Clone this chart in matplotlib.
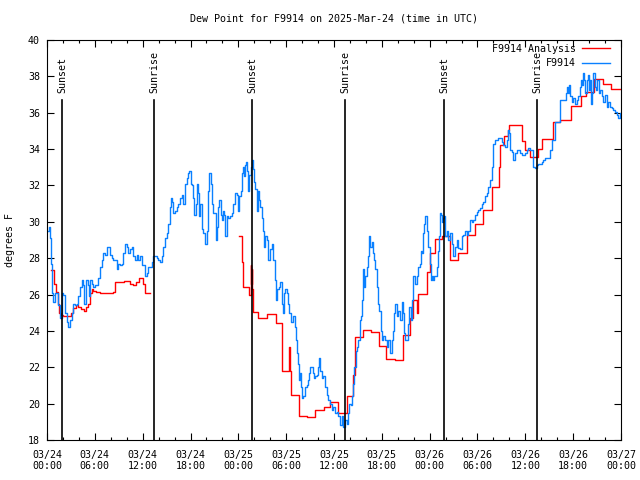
import matplotlib
matplotlib.use('Agg')
import matplotlib.pyplot as plt
import matplotlib.transforms as mtransforms
import numpy as np

# hours since 2025-03-24 00:00 UTC
obs_hours = [0.0, 0.25, 0.38, 0.5, 0.59, 0.75, 1.0, 1.22, 1.38, 1.63, 1.84, 2.01, 2.26, 2.47, 2.63, 2.89,
             3.1, 3.26, 3.51, 3.73, 3.89, 4.14, 4.35, 4.52, 4.64, 4.85, 5.11, 5.27, 5.43, 5.61, 5.81,
             6.02, 6.23, 6.44, 6.65, 6.86, 7.06, 7.28, 7.49, 7.69, 7.9, 8.12, 8.32, 8.53, 8.74, 8.94,
             9.16, 9.37, 9.57, 9.78, 10.0, 10.2, 10.41, 10.62, 10.83, 11.04, 11.25, 11.45, 11.67,
             11.88, 12.08, 12.29, 12.51, 12.71, 12.92, 13.13, 13.33, 13.55, 13.76, 13.96, 14.17,
             14.39, 14.59, 14.8, 15.02, 15.22, 15.43, 15.55, 15.72, 15.84, 16.06, 16.27, 16.47,
             16.68, 16.9, 17.1, 17.31, 17.52, 17.72, 17.85, 18.03, 18.15, 18.35, 18.48, 18.65,
             18.78, 18.98, 19.1, 19.23, 19.41, 19.61, 19.82, 20.03, 20.23, 20.36, 20.53, 20.66,
             20.86, 20.99, 21.16, 21.29, 21.49, 21.62, 21.79, 21.91, 22.11, 22.24, 22.37, 22.54,
             22.74, 22.96, 23.17, 23.37, 23.58, 23.8, 24.0, 24.12, 24.3, 24.42, 24.55, 24.71, 24.84,
             24.96, 25.05, 25.18, 25.25, 25.38, 25.55, 25.72, 25.84, 25.97, 26.13, 26.3, 26.43,
             26.59, 26.72, 26.93, 27.06, 27.26, 27.38, 27.56, 27.76, 27.97, 28.19, 28.39, 28.6,
             28.73, 28.89, 29.06, 29.23, 29.44, 29.64, 29.77, 29.89, 30.07, 30.27, 30.39, 30.57,
             30.73, 30.9, 31.11, 31.23, 31.32, 31.45, 31.61, 31.74, 31.86, 32.02, 32.15, 32.36,
             32.58, 32.7, 32.83, 32.99, 33.2, 33.33, 33.49, 33.66, 33.83, 33.96, 34.08, 34.25,
             34.46, 34.66, 34.87, 35.09, 35.29, 35.5, 35.71, 35.91, 36.13, 36.34, 36.54, 36.75,
             36.97, 37.17, 37.38, 37.59, 37.79, 37.92, 38.1, 38.22, 38.42, 38.55, 38.72, 38.85,
             39.05, 39.26, 39.39, 39.51, 39.68, 39.8, 39.93, 40.1, 40.3, 40.43, 40.55, 40.73,
             40.86, 41.02, 41.14, 41.36, 41.56, 41.68, 41.86, 42.02, 42.19, 42.4, 42.61, 42.81,
             43.03, 43.24, 43.36, 43.53, 43.65, 43.87, 44.07, 44.28, 44.49, 44.62, 44.78, 44.95,
             45.12, 45.32, 45.45, 45.62, 45.79, 45.95, 46.16, 46.38, 46.58, 46.79, 46.91, 47.04,
             47.2, 47.33, 47.45, 47.63, 47.83, 48.04, 48.17, 48.33, 48.46, 48.58, 48.76, 48.88,
             49.01, 49.13, 49.26, 49.39, 49.51, 49.64, 49.76, 49.92, 50.14, 50.34, 50.55, 50.76,
             50.97, 51.18, 51.39, 51.59, 51.81, 52.02, 52.22, 52.43, 52.65, 52.85, 53.06, 53.27,
             53.47, 53.69, 53.9, 54.1, 54.31, 54.53, 54.73, 54.94, 55.16, 55.36, 55.57, 55.78,
             55.98, 56.2, 56.41, 56.61, 56.82, 57.04, 57.24, 57.45, 57.66, 57.79, 57.95, 58.08,
             58.29, 58.49, 58.7, 58.92, 59.12, 59.33, 59.54, 59.75, 59.96, 60.17, 60.37, 60.59,
             60.8, 61.0, 61.21, 61.43, 61.63, 61.84, 62.05, 62.26, 62.47, 62.68, 62.88, 63.1,
             63.31, 63.51, 63.72, 63.94, 64.14, 64.35, 64.56, 64.77, 64.98, 65.1, 65.23, 65.35,
             65.48, 65.6, 65.82, 66.02, 66.23, 66.44, 66.64, 66.86, 66.98, 67.11, 67.27, 67.4,
             67.52, 67.7, 67.83, 67.95, 68.11, 68.24, 68.36, 68.53, 68.7, 68.87, 69.03, 69.2,
             69.37, 69.58, 69.78, 69.99, 70.2, 70.41, 70.62, 70.83, 71.04, 71.25, 71.46, 71.66,
             71.88, 72.0]
obs_dewpt = [29.5, 29.7, 29.1, 27.7, 26.1, 25.6, 26.1, 26.1, 25.4, 24.7, 26.1, 26.0, 25.0, 24.5, 24.2, 24.6,
             25.0, 25.5, 25.4, 25.5, 25.9, 26.4, 26.8, 26.5, 25.5, 26.8, 26.5, 25.9, 26.8, 26.6, 26.4,
             26.5, 26.5, 26.9, 27.5, 27.9, 28.3, 28.2, 28.6, 28.6, 28.2, 28.0, 27.9, 27.9, 27.4, 27.7,
             27.6, 27.7, 28.3, 28.8, 28.6, 28.3, 28.5, 28.6, 28.1, 27.9, 28.2, 27.9, 28.1,
             27.6, 27.6, 27.0, 27.2, 27.5, 27.5, 27.8, 28.1, 28.1, 28.0, 27.9, 27.8,
             28.1, 28.6, 29.1, 29.4, 29.9, 30.8, 31.3, 31.1, 30.5, 30.6, 30.8, 31.0,
             31.3, 31.5, 31.0, 32.1, 32.4, 32.7, 32.8, 32.1, 32.0, 31.3, 30.4, 31.0,
             32.1, 31.6, 30.3, 31.0, 29.6, 29.4, 28.8, 29.5, 31.7, 32.7, 32.1, 31.0,
             30.5, 30.5, 29.0, 29.7, 30.8, 31.2, 30.4, 30.1, 30.6, 30.4, 29.2, 30.3,
             30.2, 30.3, 30.5, 31.0, 31.6, 31.5, 30.6, 31.4, 31.7, 32.7, 33.0, 32.5, 33.1,
             33.3, 32.8, 32.0, 31.7, 32.6, 33.0, 33.4, 32.9, 32.2, 31.8, 30.6, 31.7,
             31.2, 30.8, 30.2, 29.5, 28.6, 29.2, 29.0, 27.9, 28.5, 28.8, 27.9, 26.8,
             25.7, 26.3, 26.4, 26.7, 25.5, 25.0, 26.1, 26.3, 26.1, 25.5, 25.0, 24.5,
             24.5, 24.8, 24.2, 23.5, 22.8, 22.2, 21.3, 21.7, 20.9, 20.3, 20.4, 20.9,
             21.0, 21.3, 21.7, 22.0, 22.0, 21.7, 21.4, 21.5, 21.6, 22.0, 22.5, 21.8,
             21.4, 21.5, 20.9, 20.5, 20.2, 20.0, 19.65, 19.8, 19.5, 19.55, 19.3, 18.8,
             19.3, 18.7, 19.1, 18.9, 19.5, 20.0, 19.9, 20.4, 21.1, 22.0, 22.9, 23.1,
             23.5, 24.6, 24.8, 25.7, 27.4, 26.4, 27.0, 27.5, 28.1, 29.2, 28.6, 28.9,
             28.3, 27.9, 27.4, 26.4, 25.5, 25.1, 24.0, 23.5, 23.7, 23.5, 23.1, 23.5,
             22.8, 23.5, 24.0, 25.0, 25.5, 24.8, 25.1, 24.6, 25.6, 25.0, 23.9, 23.5,
             23.5, 24.4, 25.3, 24.6, 25.7, 27.0, 26.6, 27.0, 27.5, 27.7, 28.4, 28.3,
             29.4, 29.9, 30.3, 29.5, 28.6, 27.7, 26.8, 27.0, 26.8, 27.0, 27.0, 27.5,
             28.4, 29.2, 30.5, 30.4, 30.0, 30.2, 30.3, 29.2, 29.5, 29.0, 29.4, 28.8,
             28.1, 28.6, 29.0, 28.55, 28.5, 29.2, 29.3, 29.5, 29.3, 29.5, 30.1, 30.0,
             30.1, 30.4, 30.55, 30.65, 30.75, 31.0, 31.1, 31.4, 31.6, 31.9, 32.3, 33.0,
             34.3, 34.5, 34.5, 34.6, 34.6, 34.4, 34.2, 34.1, 34.5, 35.05, 34.9, 33.95,
             33.85, 33.4, 33.8, 33.95, 33.95, 33.8, 33.7, 33.7, 33.8, 33.95, 34.05, 33.95,
             33.95, 33.0, 32.95, 33.1, 33.2, 33.2, 33.3, 33.4, 33.5, 33.5, 33.5, 33.95,
             34.5, 34.5, 35.5, 35.5, 35.5, 36.7, 36.7, 36.7, 36.7, 37.1, 37.4, 37.1,
             37.5, 36.9, 36.6, 36.8, 36.5, 36.7, 36.9, 37.4, 37.8, 37.5, 38.2, 37.8,
             37.1, 37.8, 38.1, 37.25, 37.8, 36.5, 37.1, 38.2, 37.4, 37.25, 37.8, 37.1,
             37.25, 36.9, 36.6, 37.0, 36.3, 36.6, 36.3, 36.25, 36.15, 36.05, 35.9, 35.7,
             36.0, 35.8]

# analysis (red), NaN = no data
ana_hours = [0.5, 0.92, 1.15, 1.33, 1.5, 1.75, 2.05, 3.0, 3.3, 3.6, 3.9, 4.3, 4.6, 4.9, 5.1, 5.4, 5.6,
             5.8, 6.2, 6.6, 8.3, 8.5, 9.7, 10.4, 10.8, 11.2, 11.5, 12.0, 12.3, 12.9, 12.95,
             24.1, 24.5, 24.55, 25.4, 25.55, 25.62, 25.68, 25.75, 25.85, 26.5, 27.56, 28.7, 29.5,
             30.3, 30.45, 30.6, 31.6, 32.6, 33.6, 34.7, 35.5, 36.5, 37.6, 38.4, 38.6, 39.7, 40.6,
             41.7, 42.5, 43.65, 44.6, 45.5, 45.9, 46.45, 46.55, 47.7, 48.0, 48.7, 49.5, 50.55,
             51.6, 52.65, 53.7, 54.65, 55.8, 56.7, 56.8, 57.3, 57.8, 57.9, 59.6, 60.0, 60.6,
             61.55, 62.05, 63.5, 64.35, 65.7, 67.0, 67.6, 68.65, 69.8, 70.7, 72.0]
ana_dewpt = [27.35, 26.6, 26.15, 25.5, 25.0, 24.9, 24.8, 25.0, 25.25, 25.4, 25.3, 25.2, 25.1, 25.3,
             25.5, 26.1, 26.3, 26.2, 26.15, 26.1, 26.15, 26.7, 26.75, 26.6, 26.55, 26.7, 26.9, 26.6,
             26.1, 26.1, np.nan,
             29.2, 27.8, 26.4, 26.0, 27.6, 26.6, 27.4, 26.3, 25.05, 24.7, 24.95, 24.45, 21.8,
             23.1, 21.8, 20.45, 19.3, 19.25, 19.65, 19.8, 20.1, 19.5, 20.4, 21.6, 23.65, 24.05,
             23.95, 23.15, 22.45, 22.4, 23.8, 24.7, 25.7, 25.0, 26.05, 27.25, 28.3, 29.05, 29.2,
             27.9, 28.3, 29.25, 29.9, 30.65, 31.9, 33.0, 34.2, 34.7, 35.05, 35.3, 34.45, 33.95,
             33.55, 34.0, 34.55, 35.5, 35.6, 36.35, 36.9, 37.15, 37.85, 37.6, 37.3, 37.3]

sun_hours = [1.88, 13.42, 25.72, 37.38, 49.8, 61.46]
sun_labels = ['Sunset', 'Sunrise', 'Sunset', 'Sunrise', 'Sunset', 'Sunrise']

tick_hours = [0, 6, 12, 18, 24, 30, 36, 42, 48, 54, 60, 66, 72]
tick_labels = ['03/24\n00:00', '03/24\n06:00', '03/24\n12:00', '03/24\n18:00',
               '03/25\n00:00', '03/25\n06:00', '03/25\n12:00', '03/25\n18:00',
               '03/26\n00:00', '03/26\n06:00', '03/26\n12:00', '03/26\n18:00',
               '03/27\n00:00']

plt.rcParams['font.family'] = ['DejaVu Sans Mono']
fs = 7.2

fig = plt.figure(figsize=(6.4, 4.8), dpi=100)
ax = fig.add_axes([47/640, 40/480, 574/640, 400/480])

ax.plot(ana_hours, ana_dewpt, color='#ff0000', lw=1.0, drawstyle='steps-post', label='F9914 Analysis')
ax.plot(obs_hours, obs_dewpt, color='#0a80ff', lw=1.0, drawstyle='steps-post', label='F9914')

# sunrise / sunset markers
trans = mtransforms.blended_transform_factory(ax.transData, ax.transAxes)
for h, lab in zip(sun_hours, sun_labels):
    ax.axvline(h, ymin=0, ymax=0.85, color='black', lw=1.2)
    ax.text(h, 0.868, lab, rotation=90, ha='center', va='bottom', fontsize=fs, transform=trans)

ax.set_xlim(0, 72)
ax.set_ylim(18, 40)
ax.set_xticks(tick_hours)
ax.set_xticklabels(tick_labels, fontsize=fs)
ax.set_xticks(np.arange(0, 73, 2), minor=True)
ax.set_yticks(np.arange(18, 41, 2))
ax.tick_params(axis='y', labelsize=fs)
ax.tick_params(which='major', direction='in', length=5, width=0.8, top=True, right=True, pad=5)
ax.tick_params(which='minor', direction='in', length=2.5, width=0.8, top=True, right=True)
ax.tick_params(axis='x', pad=7)
for s in ax.spines.values():
    s.set_linewidth(0.8)

ax.set_ylabel('degrees F', fontsize=fs)
ax.yaxis.set_label_coords(-0.056, 0.5)
ax.set_title('Dew Point for F9914 on 2025-Mar-24 (time in UTC)', fontsize=fs, pad=13)

ax.legend(loc='upper right', bbox_to_anchor=(0.98, 0.99), frameon=False, markerfirst=False,
          fontsize=fs, handlelength=2.8, handletextpad=0.6, labelspacing=0.45, borderpad=0,
          borderaxespad=0)

fig.savefig('out.png', dpi=100)
